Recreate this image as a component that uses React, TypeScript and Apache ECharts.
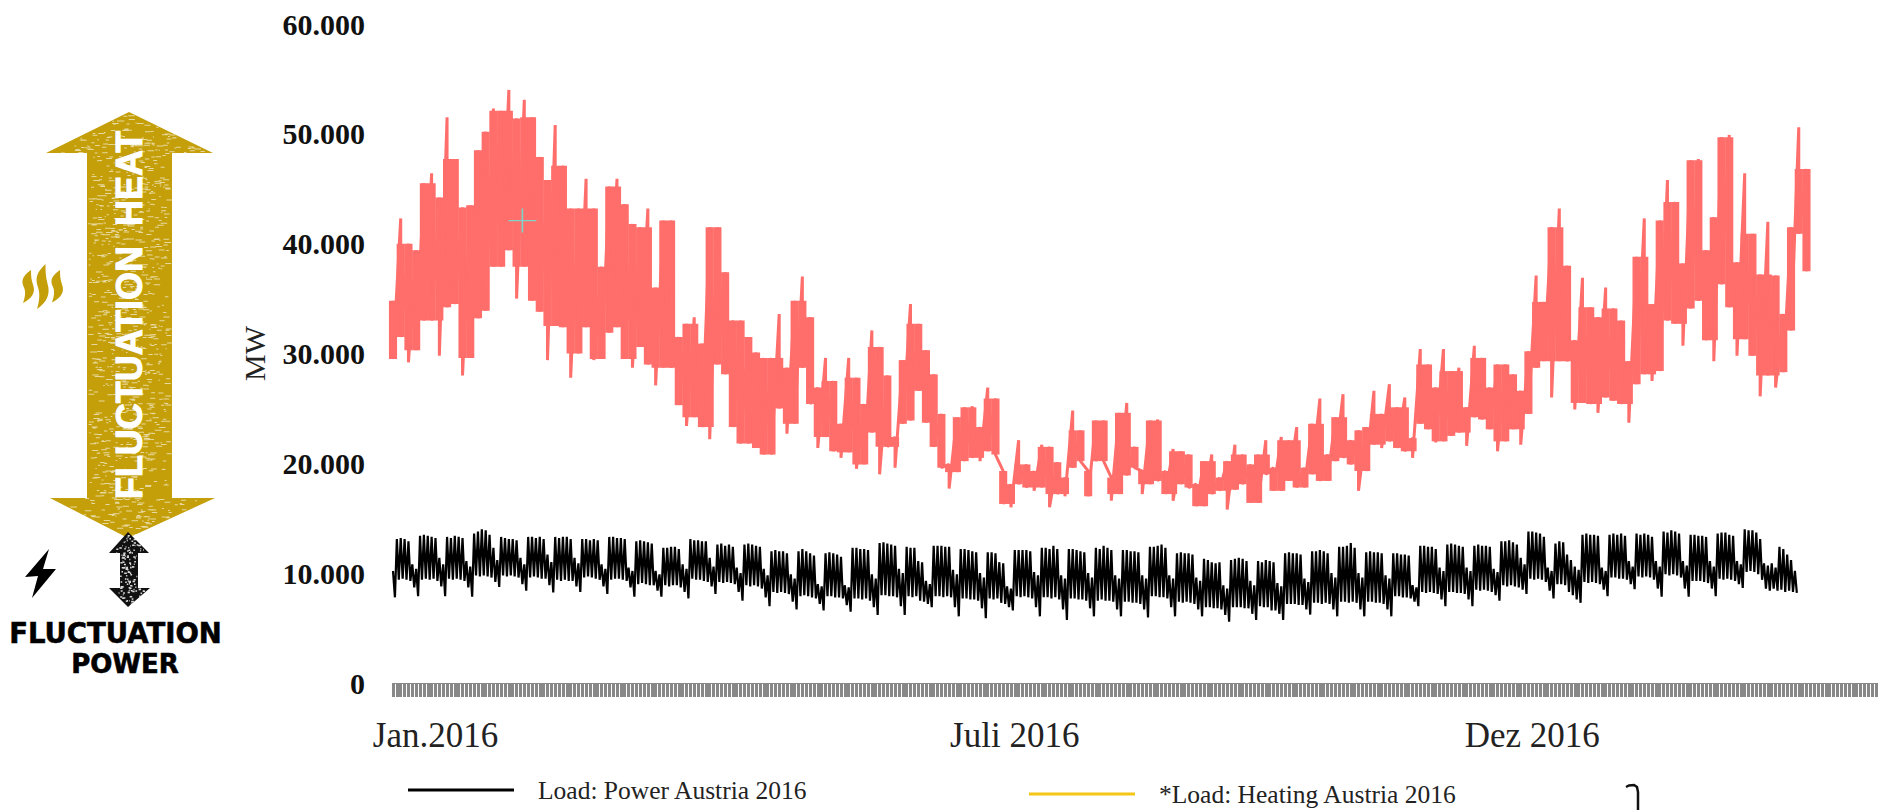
import React, { useEffect, useRef } from "react";
import * as echarts from "echarts";

// Values in thousand MW.
const heatHigh = [
  34.8, 42.3, 40, 39.4, 45.5, 46.4, 44.2, 51.5, 47.7, 43.3,
  43.5, 48.5, 50.2, 52.3, 52.1, 54, 51.4, 53.1, 51.5, 47.9,
  45.8, 50.8, 47.1, 43.2, 43.2, 45.9, 43.2, 37.9, 45.2, 45.9,
  43.6, 41.8, 41.5, 43.2, 36, 42.1, 42.1, 31.5, 32.7, 33.3,
  30.9, 41.5, 41.5, 37.4, 33, 33, 31.5, 30.1, 29.6, 29.6,
  33.6, 28.7, 34.8, 37, 33.3, 26.9, 29.6, 27.5, 23.6, 29.6,
  27.8, 25.4, 32.1, 30.6, 28, 22.4, 29.4, 34.5, 32.7, 30.3,
  28.1, 24.5,
  19.9, 24.2, 25.1, 25.2, 23.3, 26.9, 25.9, 19.3, 18.1, 22.1,
  19.9, 19.3, 21.7, 21.5, 20.1, 18.7, 24.8, 23, 19.3, 23.9,
  23.9, 18.7, 24.6, 25.5, 21.5, 19.3, 23.9, 24, 19.3, 21.3,
  21.1, 20.8, 18.1, 20.2, 20.8, 18.7, 20.2, 21.7, 20.8, 19.9,
  20.8, 22.1, 19.6, 22.4, 22.1, 23.3, 19.6, 23.6, 25.9, 20.8,
  24.2, 26.3, 22.1, 23, 23.3,
  26.6, 24.5, 27.2, 25.1, 26, 22.3, 30.4, 29, 26.9, 30.4,
  28.4, 28.7, 25.1, 30.7, 29.6, 26.9, 29, 29, 28.1, 26.6,
  30.2, 37.1, 34.7, 41.5, 43.2, 38, 31.2, 36.9, 34.2, 33.3,
  36, 34.1, 33, 29.3, 38.8, 42.3, 34.5, 42.1, 45.8, 43.8,
  38.2, 47.6, 47.7, 39.4, 42.4, 49.7, 49.9, 38.3, 46.4, 40.9,
  37.2, 42, 37.1, 33.6, 41.5, 50.6, 46.8,
];
const heatLow = [
  29.5, 31.5, 29.2, 30.3, 33, 33, 29.8, 34.2, 34.5, 28,
  29.6, 33.2, 33.9, 37.9, 37.9, 39.4, 35, 37.9, 34.8, 33.8,
  29.4, 32.5, 32.4, 27.8, 30, 32.4, 29.4, 29.5, 31.9, 32.4,
  29.5, 28.7, 30.6, 29, 27.1, 28.7, 28.7, 25.3, 23.4, 24.2,
  23.3, 22.2, 29, 28.1, 23.3, 21.8, 21.8, 21.4, 20.8, 20.8,
  25, 22.7, 23.6, 28.7, 25.4, 21.4, 22.4, 21.1, 20.5, 21,
  19.5, 19.9, 22.8, 19, 21.5, 19.6, 23.6, 23.9, 26.6, 23.7,
  21.5, 19.6,
  17.7, 19.2, 20.2, 20.5, 20.2, 21.1, 20.8, 16.3, 16, 18.1,
  17.8, 17.5, 17.8, 16, 17.2, 17, 19.6, 20.2, 17, 20.2,
  20.2, 16.6, 17.2, 18.9, 19.6, 17.2, 18.1, 18.4, 17.2, 16.6,
  18.1, 17.8, 16.1, 16.1, 17.2, 17.5, 15.8, 17.6, 18.1, 16.4,
  16.4, 19, 17.5, 17.5, 18.4, 17.8, 17.8, 19, 18.4, 18.4,
  20.2, 20.5, 19.9, 17.5, 19.3,
  21.7, 21.4, 22, 21.4, 21.1, 20.5, 23.6, 23.1, 21.9, 22,
  22.5, 22.8, 21.6, 24.2, 24, 23.1, 21.1, 22, 23.1, 21.7,
  24.5, 28.7, 29.3, 26, 29.3, 29.3, 24.9, 25.5, 25.4, 24.6,
  26, 25.7, 25.4, 23.7, 27.2, 28.1, 27.5, 28.4, 33, 32.7,
  30.7, 34.1, 34.8, 31.2, 29.3, 36.3, 34.2, 29.8, 31.3, 29.8,
  26.1, 28, 26.9, 28.3, 32.1, 40.9, 37.5,
];

// One row per week, Monday to Sunday.
const powerHigh = [
  10.2, 13.1, 13.2, 13.1, 12.9, 10.8, 10.4,
  13.4, 13.5, 13.4, 13.3, 13.2, 11.4, 10.8,
  13.3, 13.2, 13.4, 13.3, 13.2, 11.1, 10.6,
  13.6, 13.8, 14, 13.9, 13.5, 12.3, 11.2,
  13.3, 13.2, 13.1, 13.1, 13, 11.4, 10.8,
  13.3, 13.3, 13.2, 13.3, 13.1, 11.7, 11,
  13.3, 13.2, 13.3, 13.3, 13.1, 11.4, 10.9,
  13.1, 13.1, 13, 13.1, 13, 10.8, 10.4,
  13.3, 13.3, 13.2, 13.2, 13.1, 10.5, 10.2,
  12.9, 13, 12.9, 12.8, 12.7, 10.2, 9.9,
  12.3, 12.3, 12.4, 12.4, 12.2, 10.8, 10.4,
  13.1, 13, 13, 12.9, 12.9, 11.4, 10.6,
  12.6, 12.7, 12.5, 12.6, 12.4, 10.5, 10,
  12.6, 12.7, 12.6, 12.5, 12.4, 10.4, 9.8,
  12, 12.1, 12, 12, 11.8, 9.9, 9.5,
  12, 12.2, 12, 11.8, 11.6, 9, 8.8,
  11.8, 11.9, 11.8, 11.7, 11.5, 8.9, 8.7,
  12.3, 12.3, 12.2, 12.2, 12.1, 9.9, 9.5,
  12.75, 12.8, 12.7, 12.6, 12.5, 10.4, 10,
  12.4, 12.3, 12.3, 11.1, 11, 9.3, 9,
  12.5, 12.5, 12.5, 12.4, 12.4, 10.3, 9.9,
  12.2, 12.2, 12.1, 12, 11.9, 10, 9.6,
  11.9, 11.9, 11.8, 11, 10.9, 8.8, 8.6,
  12.1, 12.1, 12.1, 12.1, 12, 10.1, 9.8,
  12.3, 12.3, 12.2, 12.5, 12.2, 9.8, 9.5,
  12.2, 12.2, 12.1, 12, 11.9, 10, 9.6,
  12.3, 12.2, 12.5, 12.3, 12.1, 9.8, 9.5,
  12.1, 12.1, 12, 12, 11.9, 9.8, 9.5,
  12.4, 12.4, 12.5, 12.6, 12.3, 9.8, 9.5,
  11.8, 11.9, 11.8, 11.8, 11.7, 9.6, 9.3,
  11.3, 11.2, 11, 10.9, 11, 8.9, 8.6,
  11.2, 11.3, 11.4, 11.3, 11.1, 9.3, 8.9,
  11.1, 11, 11.2, 11.1, 11, 9.1, 8.8,
  11.8, 11.9, 11.8, 11.8, 11.7, 9.5, 9.2,
  12, 12, 12.1, 12, 11.8, 10, 9.6,
  12.4, 12.4, 12.5, 12.75, 12.3, 10, 9.6,
  11.9, 12, 11.9, 11.9, 11.8, 9.8, 9.5,
  11.8, 11.8, 11.7, 11.7, 11.6, 8.9, 8.7,
  12.5, 12.5, 12.4, 12.4, 12.2, 10.5, 10.2,
  12.6, 12.7, 12.6, 12.5, 12.4, 10.5, 10.2,
  12.5, 12.6, 12.5, 12.5, 12.4, 10.4, 10.1,
  12.9, 12.9, 13, 12.8, 12.6, 11.4, 10.8,
  13.8, 13.8, 13.7, 13.6, 13.3, 10.5, 10.2,
  12.7, 12.9, 12.8, 11.7, 11.2, 10.6, 10.3,
  13.5, 13.6, 13.5, 13.5, 13.4, 10.5, 10.2,
  13.5, 13.6, 13.5, 13.6, 13.4, 11.1, 10.6,
  13.6, 13.5, 13.6, 13.5, 13.3, 11.1, 10.6,
  13.8, 13.7, 13.9, 13.8, 13.6, 11.1, 10.7,
  13.5, 13.5, 13.4, 13.4, 13.3, 11.1, 10.6,
  13.6, 13.7, 13.7, 13.5, 13.4, 11.1, 10.8,
  14, 13.9, 13.9, 13.7, 13.1, 10.9, 10.7,
  10.9, 10.5, 12.4, 12.2, 11.7, 11.2, 10.2,
];
const powerLow = [
  7.8, 9.4, 9.5, 9.4, 9.3, 8.7, 7.9,
  9.4, 9.5, 9.4, 9.5, 9.3, 8.8, 7.9,
  9.5, 9.4, 9.5, 9.4, 9.3, 8.7, 7.85,
  9.8, 9.7, 9.8, 9.7, 9.6, 9.2, 8.75,
  9.8, 9.7, 9.8, 9.7, 9.6, 9, 8.4,
  9.6, 9.7, 9.6, 9.5, 9.5, 8.9, 8.25,
  9.4, 9.3, 9.4, 9.3, 9.3, 8.8, 8.3,
  9.6, 9.7, 9.6, 9.5, 9.4, 8.8, 8.1,
  9.4, 9.5, 9.5, 9.4, 9.3, 8.7, 7.85,
  9, 9.1, 9, 8.9, 8.9, 8.4, 7.85,
  8.9, 8.8, 8.9, 8.9, 8.7, 8.3, 7.7,
  9.5, 9.4, 9.4, 9.3, 9.2, 8.8, 8.1,
  9.2, 9.1, 9.2, 9.1, 9, 8.3, 7.5,
  8.9, 8.8, 8.9, 8.8, 8.6, 7.8, 7,
  8.3, 8.2, 8.3, 8.2, 8.1, 7.4, 6.7,
  7.9, 8, 7.9, 7.8, 7.7, 7.2, 6.6,
  7.9, 7.9, 7.8, 7.8, 7.7, 7.1, 6.5,
  7.7, 7.7, 7.6, 7.7, 7.5, 6.9, 6.2,
  8, 8, 7.9, 7.9, 7.8, 7, 6.2,
  7.9, 7.8, 7.9, 7.5, 7.4, 7.2, 6.9,
  7.9, 7.9, 7.8, 7.9, 7.8, 6.9, 6.07,
  7.7, 7.7, 7.6, 7.6, 7.5, 6.8, 5.9,
  7.7, 7.6, 7.7, 7.3, 7.2, 6.9, 6.6,
  7.9, 7.8, 7.9, 7.8, 7.7, 6.9, 6.07,
  7.8, 7.8, 7.7, 7.8, 7.6, 6.7, 5.75,
  7.7, 7.7, 7.6, 7.6, 7.5, 6.8, 6.07,
  7.5, 7.6, 7.5, 7.5, 7.4, 6.7, 6.07,
  7.4, 7.4, 7.3, 7.3, 7.2, 6.7, 5.97,
  7.9, 7.9, 7.8, 7.8, 7.7, 6.9, 6.07,
  7.4, 7.3, 7.4, 7.3, 7.2, 6.7, 6.07,
  6.9, 6.9, 6.8, 6.8, 6.7, 6.2, 5.58,
  6.9, 6.9, 6.9, 6.8, 6.8, 6.3, 5.75,
  7, 6.9, 6.9, 6.6, 6.6, 6.3, 5.75,
  7.2, 7.2, 7.2, 7.1, 7.1, 6.7, 6.23,
  7.3, 7.3, 7.2, 7.3, 7.2, 6.7, 6.07,
  7.4, 7.4, 7.3, 7.4, 7.3, 6.7, 6.07,
  7.4, 7.4, 7.3, 7.3, 7.2, 6.7, 6.07,
  7.9, 7.9, 7.8, 7.8, 7.7, 7.4, 7,
  8.3, 8.2, 8.3, 8.2, 8.1, 7.6, 7,
  8.3, 8.3, 8.2, 8.2, 8.1, 7.6, 7,
  8.5, 8.4, 8.5, 8.4, 8.3, 8, 7.5,
  8.9, 8.8, 8.9, 8.8, 8.7, 8.5, 8.1,
  9.5, 9.4, 9.5, 9.4, 9.2, 8.4, 7.7,
  9, 9, 8.9, 8.3, 8, 7.6, 7.3,
  9.2, 9.1, 9.2, 9.1, 9, 8.5, 7.9,
  9.6, 9.6, 9.5, 9.5, 9.4, 9, 8.55,
  9.7, 9.6, 9.7, 9.6, 9.4, 8.6, 7.85,
  9.9, 9.8, 9.9, 9.8, 9.6, 8.6, 7.85,
  9.3, 9.3, 9.3, 9.2, 9.1, 8.6, 7.9,
  9.5, 9.4, 9.5, 9.4, 9.3, 9, 8.65,
  10.1, 10.2, 10.1, 9.9, 9.4, 8.6, 8.4,
  8.6, 8.4, 8.5, 8.3, 8.4, 8.3, 8.2,
];
const yTickStep = 10000;
const xTickLabels: Record<number, string> = { 22: "Jan.2016", 322: "Juli 2016", 590: "Dez 2016" };
const axisSlots = Array.from({ length: 769 }, (_, i) => String(i));
const markerPoint = [67, 42100];
const powerName = "Load: Power Austria 2016";
const heatName = "*Load: Heating Austria 2016";
const heatCoreName = "Heating core";

const powerData: number[][] = [];
powerHigh.forEach((hi, d) => {
  powerData.push([2 * d, hi * 1000], [2 * d + 1, powerLow[d] * 1000]);
});
// Every slot is a vertical stroke from its high to its low.
const heatData: number[][] = [];
heatHigh.forEach((hi, s) => {
  heatData.push([4 * s, hi * 1000], [4 * s, heatLow[s] * 1000]);
});
// The solid body of the ribbon: what a slot shares with its neighbours, spikes excluded.
const median3 = (a: number[], i: number) => {
  const t = [a[Math.max(0, i - 1)], a[i], a[Math.min(a.length - 1, i + 1)]].sort((p, q) => p - q);
  return t[1];
};
const heatCore = heatHigh.map((hi, s) => {
  let top = median3(heatHigh, s);
  let bottom = median3(heatLow, s);
  if (top > hi) top = hi;
  if (bottom < heatLow[s]) bottom = heatLow[s];
  if (top <= bottom) {
    top = hi;
    bottom = heatLow[s];
  }
  return [4 * s, top * 1000, bottom * 1000];
});

const frac = (v: number) => v - Math.floor(v);
const hash = (j: number, k: number) => frac(Math.sin(j * k) * 43758.5453);
function flecks(n: number, test: (x: number, y: number) => boolean, xa: number, xb: number, ya: number, yb: number, w: number, h: number) {
  let d = "";
  for (let j = 1; j <= n; j++) {
    const x = xa + hash(j, 12.9898) * (xb - xa);
    const y = ya + hash(j, 78.233) * (yb - ya);
    if (!test(x, y)) continue;
    const ww = w * (0.3 + hash(j, 37.719) * 1.4);
    d += `M${x.toFixed(1)} ${y.toFixed(1)}h${ww.toFixed(1)}v${h}h${(-ww).toFixed(1)}Z`;
  }
  return d;
}
const inGold = (x: number, y: number) => {
  if (y < 153) return Math.abs(x - 129) < ((y - 112) / 41) * 78;
  if (y > 498) return Math.abs(x - 130) < ((538 - y) / 40) * 78;
  return x > 88 && x < 167;
};
const inBlack = (x: number, y: number) => {
  if (y < 553) return Math.abs(x - 129) < ((y - 532) / 21) * 18;
  if (y > 588) return Math.abs(x - 129) < ((607 - y) / 19) * 18;
  return x > 120 && x < 137;
};
echarts.graphic.registerShape("goldFlecks", echarts.graphic.extendPath(flecks(2000, inGold, 46, 215, 112, 538, 4, 1), {}));
echarts.graphic.registerShape("blackFlecks", echarts.graphic.extendPath(flecks(300, inBlack, 109, 150, 532, 607, 1.6, 1.5), {}));
echarts.graphic.registerShape(
  "steam",
  echarts.graphic.extendPath("M10 0C1 7 0 12 3 19C5 24 4 30 2 36C11 31 15 24 12 16C10 10 10 5 10 0Z", {})
);

const GOLD = "#C49F0A";
const RED = "#FF6E6B";
const serif = "Liberation Serif";

export default function App() {
  const ref = useRef<HTMLDivElement>(null);
  useEffect(() => {
    const chart = echarts.init(ref.current!, undefined, { renderer: "svg" });
    chart.setOption({
      animation: false,
      backgroundColor: "#fff",
      grid: { left: 393, right: 8, top: 24, height: 659, containLabel: false },
      xAxis: {
        type: "category",
        data: axisSlots,
        boundaryGap: false,
        axisLine: { lineStyle: { color: "#888", width: 1 } },
        axisTick: { interval: 1, length: 14, lineStyle: { color: "#888", width: 3 } },
        axisLabel: {
          interval: (i: number) => xTickLabels[i] !== undefined,
          formatter: (_v: string, i: number) => xTickLabels[i] ?? "",
          margin: 35,
          fontFamily: serif,
          fontSize: 35,
          color: "#222",
          hideOverlap: false,
        },
        splitLine: { show: false },
      },
      yAxis: {
        type: "value",
        min: 0,
        max: 60000,
        interval: yTickStep,
        name: "MW",
        nameLocation: "middle",
        nameGap: 124,
        nameRotate: 90,
        nameTextStyle: { fontFamily: serif, fontSize: 30, color: "#222" },
        axisLine: { show: false },
        axisTick: { show: false },
        splitLine: { show: false },
        axisLabel: {
          margin: 28,
          padding: [2, 0, 0, 0],
          fontFamily: serif,
          fontWeight: "bold",
          fontSize: 30,
          color: "#111",
          formatter: (v: number) => (v === 0 ? "0" : `${v / 1000}.000`),
        },
      },
      legend: [
        {
          left: 408,
          top: 777,
          padding: 0,
          itemWidth: 106,
          itemHeight: 3,
          selectedMode: false,
          icon: "rect",
          data: [{ name: powerName, itemStyle: { color: "#000" } }],
          textStyle: { fontFamily: serif, fontSize: 25.5, color: "#222", padding: [0, 0, 0, 19] },
        },
        {
          left: 1029,
          top: 781,
          padding: 0,
          itemWidth: 106,
          itemHeight: 3,
          selectedMode: false,
          icon: "rect",
          data: [{ name: heatName, itemStyle: { color: "#F5C518" } }],
          textStyle: { fontFamily: serif, fontSize: 25.5, color: "#222", padding: [0, 0, 0, 19] },
        },
      ],
      series: [
        {
          name: heatCoreName,
          type: "custom",
          silent: true,
          z: 2,
          encode: { x: 0, y: [1, 2] },
          data: heatCore,
          renderItem: (_p: any, api: any) => {
            const a = api.coord([api.value(0), api.value(1)]);
            const b = api.coord([api.value(0), api.value(2)]);
            const w = api.size([1, 0])[0] * 4 + 0.4;
            return {
              type: "rect",
              shape: { x: a[0] - w / 2, y: a[1], width: w, height: b[1] - a[1] },
              style: { fill: RED },
            };
          },
        },
        {
          name: heatName,
          type: "line",
          data: heatData,
          showSymbol: false,
          silent: true,
          z: 3,
          itemStyle: { color: RED },
          lineStyle: { color: RED, width: 3 },
        },
        {
          name: powerName,
          type: "line",
          data: powerData,
          showSymbol: false,
          silent: true,
          z: 4,
          itemStyle: { color: "#000" },
          lineStyle: { color: "#000", width: 2.2 },
        },
        {
          name: "Marker",
          type: "scatter",
          data: [markerPoint],
          silent: true,
          z: 6,
          symbol: "path://M0 12H28M14 0V24",
          symbolSize: [28, 24],
          itemStyle: { color: "rgba(0,0,0,0)", borderColor: "#7ED3C8", borderWidth: 1.5, opacity: 1 },
        },
      ],
      graphic: [
        { type: "polygon", shape: { points: [[129, 112], [213, 153], [172, 153], [172, 498], [215, 498], [128, 538], [50, 498], [87, 498], [87, 153], [46, 153]] }, style: { fill: GOLD } },
        { type: "goldFlecks", style: { fill: "#fff", opacity: 0.6 } },
        {
          type: "text",
          x: 129,
          y: 315,
          rotation: Math.PI / 2,
          style: {
            text: "FLUCTUATION  HEAT",
            fill: "#fff",
            stroke: "#fff",
            lineWidth: 1,
            fontFamily: "Liberation Sans",
            fontWeight: "bold",
            fontSize: 36,
            textAlign: "center",
            textVerticalAlign: "middle",
          },
        },
        { type: "polygon", shape: { points: [[128, 532], [149, 553], [138, 553], [138, 588], [150, 588], [128, 607], [109, 588], [120, 588], [120, 553], [109, 553]] }, style: { fill: "#111" } },
        { type: "blackFlecks", style: { fill: "#fff", opacity: 0.85 } },
        { type: "polygon", shape: { points: [[49, 549], [25, 577], [38, 576], [32, 598], [56, 569], [43, 569]] }, style: { fill: "#000" } },
        { type: "steam", x: 21, y: 270, scaleX: 1, scaleY: 0.92, style: { fill: GOLD } },
        { type: "steam", x: 35, y: 264, scaleX: 1.05, scaleY: 1.25, style: { fill: GOLD } },
        { type: "steam", x: 50, y: 270, scaleX: 1, scaleY: 0.9, style: { fill: GOLD } },
        {
          type: "text", x: 115.5, y: 633,
          style: { text: "FLUCTUATION", fill: "#000", stroke: "#000", lineWidth: 0.6, fontFamily: "DejaVu Sans", fontWeight: "bold", fontSize: 27.5, textAlign: "center", textVerticalAlign: "middle" },
        },
        {
          type: "text", x: 125, y: 664,
          style: { text: "POWER", fill: "#000", stroke: "#000", lineWidth: 0.6, fontFamily: "DejaVu Sans", fontWeight: "bold", fontSize: 26, textAlign: "center", textVerticalAlign: "middle" },
        },
        {
          type: "polyline",
          shape: { points: [[1626, 787], [1629, 785.5], [1634, 785], [1637, 787], [1638, 792], [1638, 810]] },
          style: { stroke: "#111", lineWidth: 2.5, fill: "none" },
        },
      ],
    });
    return () => chart.dispose();
  }, []);
  return <div ref={ref} style={{ position: "absolute", left: 0, top: 0, width: 1884, height: 810 }} />;
}
